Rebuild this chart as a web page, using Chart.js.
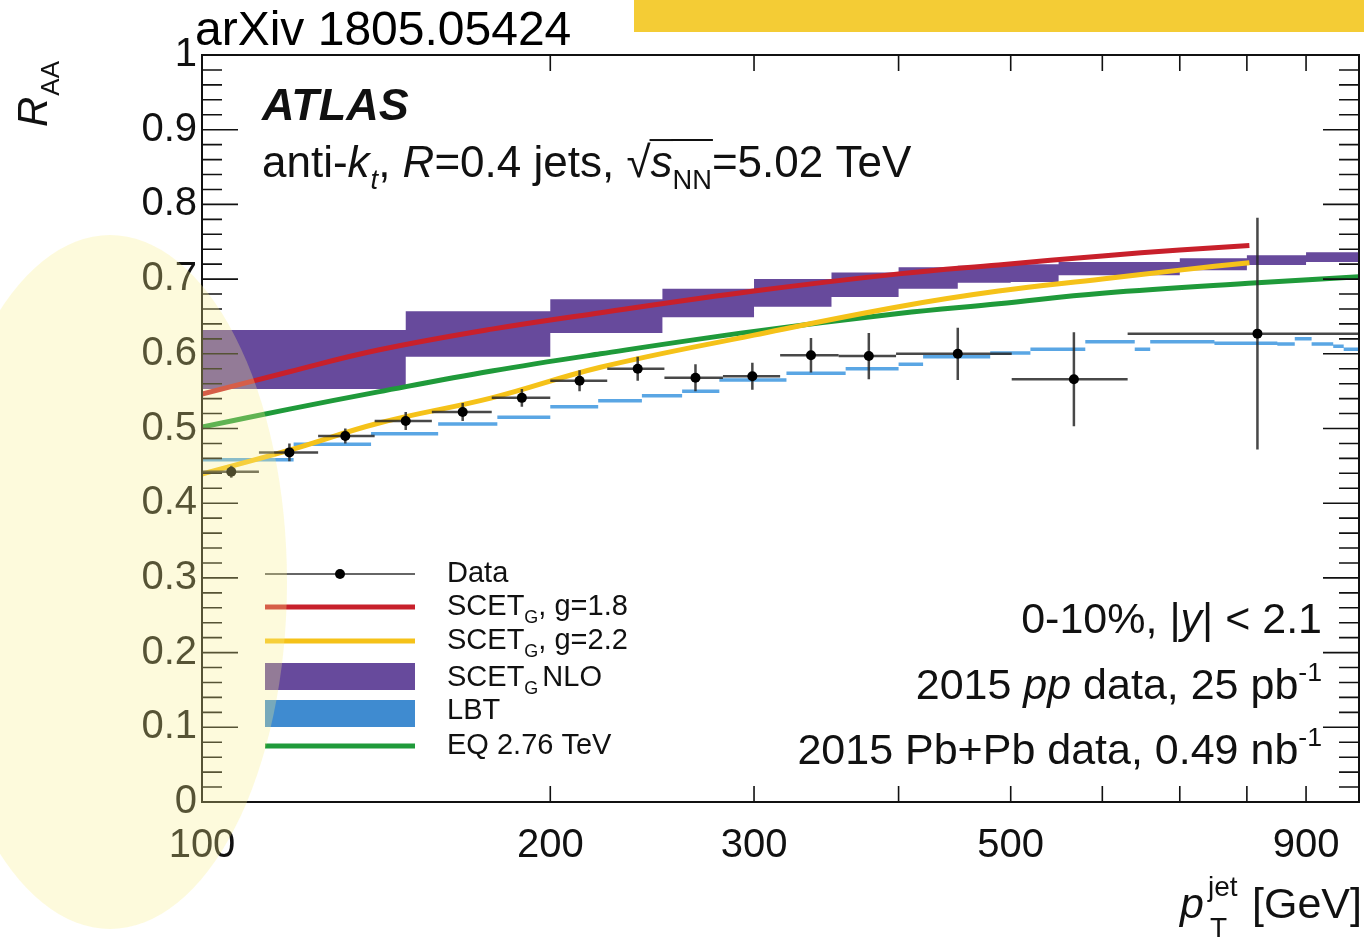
<!DOCTYPE html>
<html>
<head>
<meta charset="utf-8">
<script src="https://cdn.jsdelivr.net/npm/chart.js@4.4.1/dist/chart.umd.min.js"></script>
<style>
  html, body { margin: 0; padding: 0; background: #fff; }
  canvas { display: block; }
</style>
</head>
<body>
<canvas id="grafica" width="1364" height="940"></canvas>
<script>
// R_AA de jets, ATLAS 0-10%
const binEdges = [100, 112, 126, 141, 158, 178, 200, 224, 251, 282, 316, 355, 398, 501, 631, 1000];
const dataPt = [106, 119, 133, 150, 168, 189, 212, 238, 267, 299, 336, 377, 450, 567, 817];
const dataRaa = [0.442, 0.468, 0.490, 0.510, 0.522, 0.541, 0.564, 0.580, 0.568, 0.570, 0.598, 0.597, 0.600, 0.566, 0.627];
const dataErr = [0.008, 0.012, 0.010, 0.012, 0.012, 0.012, 0.014, 0.016, 0.018, 0.018, 0.023, 0.031, 0.035, 0.063, 0.155];

const curvePt = [100, 119, 142, 178, 221, 300, 400, 488, 600, 700, 804];
const scetG18 = [0.546, 0.576, 0.605, 0.633, 0.655, 0.684, 0.707, 0.719, 0.731, 0.739, 0.745];
const scetG22 = [0.439, 0.471, 0.507, 0.541, 0.582, 0.625, 0.663, 0.684, 0.700, 0.712, 0.722];

const eqPt = [100, 119, 142, 178, 221, 300, 400, 488, 600, 817, 1000];
const eq276 = [0.502, 0.526, 0.549, 0.577, 0.600, 0.630, 0.654, 0.667, 0.681, 0.695, 0.703];

const nloEdges = [100, 150, 200, 250, 300, 350, 400, 450, 500, 550, 700, 800, 900, 1000];
const nloLow = [0.553, 0.596, 0.628, 0.649, 0.663, 0.676, 0.687, 0.695, 0.696, 0.705, 0.712, 0.719, 0.723];
const nloHigh = [0.632, 0.657, 0.673, 0.687, 0.700, 0.709, 0.716, 0.718, 0.720, 0.723, 0.728, 0.732, 0.736];

const lbtEdges = [100, 120, 140, 160, 180, 200, 220, 240, 260, 280, 320, 360, 400, 420, 480, 520, 580, 640, 660, 750, 850, 880, 910, 950, 970, 1000];
const lbtRaa = [0.458, 0.479, 0.493, 0.506, 0.515, 0.529, 0.537, 0.544, 0.550, 0.565, 0.574, 0.580, 0.586, 0.596, 0.601, 0.606, 0.616, 0.606, 0.616, 0.614, 0.613, 0.620, 0.613, 0.610, 0.606];

const xLabels = [100, 200, 300, 500, 900];

const FUENTE = "'Liberation Sans', Arial, Helvetica, sans-serif";
const ROJO = "#c8202b", AMARILLO = "#f5c219", VERDE = "#1f9a3a", MORADO = "#674a9c";

function puntos(xs, ys) {
  return xs.map((x, i) => ({ x: x, y: ys[i] }));
}

function escalones(edges, vals) {
  const out = [];
  vals.forEach((v, i) => {
    out.push({ x: edges[i], y: v });
    out.push({ x: edges[i + 1], y: v });
  });
  return out;
}

function segmentos(edges, vals) {
  const out = [];
  vals.forEach((v, i) => {
    out.push({ x: edges[i], y: v });
    out.push({ x: edges[i + 1], y: v });
    out.push({ x: edges[i + 1], y: null });
  });
  return out;
}

function medirPartes(ctx, partes, size) {
  return partes.map(p => {
    const s = (p.sub || p.sup) ? size * 0.62 : size;
    const font = (p.i ? "italic " : "") + (p.b ? "bold " : "") + s + "px " + FUENTE;
    ctx.font = font;
    return Object.assign({}, p, {
      font: font,
      w: ctx.measureText(p.t).width,
      dy: p.sub ? size * 0.28 : (p.sup ? -size * 0.42 : 0)
    });
  });
}

function textoRico(ctx, partes, x, y, size, align) {
  const m = medirPartes(ctx, partes, size);
  const total = m.reduce((a, p) => a + p.w + (p.gap || 0), 0);
  let cx = align === "right" ? x - total : x;
  ctx.textAlign = "left";
  ctx.textBaseline = "alphabetic";
  m.forEach(p => {
    ctx.font = p.font;
    ctx.fillText(p.t, cx, y + p.dy);
    if (p.ol) {
      ctx.save();
      ctx.lineWidth = 2;
      ctx.strokeStyle = ctx.fillStyle;
      ctx.beginPath();
      ctx.moveTo(cx - 1, y - size * 0.84);
      ctx.lineTo(cx + p.w + 1, y - size * 0.84);
      ctx.stroke();
      ctx.restore();
    }
    cx += p.w + (p.gap || 0);
  });
}

const barrasError = {
  id: "barrasError",
  beforeDatasetDraw(chart, args) {
    if (args.index !== 0) return;
    const ctx = chart.ctx, x = chart.scales.x, y = chart.scales.y;
    ctx.save();
    ctx.strokeStyle = "rgba(40,40,40,0.85)";
    ctx.lineWidth = 2.5;
    dataPt.forEach((pt, i) => {
      const px = x.getPixelForValue(pt), py = y.getPixelForValue(dataRaa[i]);
      ctx.beginPath();
      ctx.moveTo(x.getPixelForValue(binEdges[i]), py);
      ctx.lineTo(x.getPixelForValue(binEdges[i + 1]), py);
      ctx.moveTo(px, y.getPixelForValue(dataRaa[i] - dataErr[i]));
      ctx.lineTo(px, y.getPixelForValue(dataRaa[i] + dataErr[i]));
      ctx.stroke();
    });
    ctx.restore();
  }
};

const decorado = {
  id: "decorado",
  afterDraw(chart) {
    const ctx = chart.ctx, a = chart.chartArea;
    const x = chart.scales.x, y = chart.scales.y;
    ctx.save();

    // marco y marcas hacia dentro
    ctx.strokeStyle = "#111";
    ctx.lineWidth = 2;
    ctx.strokeRect(a.left, a.top, a.right - a.left, a.bottom - a.top);
    ctx.lineWidth = 1.6;
    ctx.beginPath();
    for (let k = 0; k <= 50; k++) {
      const py = y.getPixelForValue(k * 0.02);
      const len = k % 5 === 0 ? 36 : 20;
      ctx.moveTo(a.left, py); ctx.lineTo(a.left + len, py);
      ctx.moveTo(a.right, py); ctx.lineTo(a.right - len, py);
    }
    for (let v = 200; v <= 1000; v += 100) {
      const px = x.getPixelForValue(v);
      ctx.moveTo(px, a.bottom); ctx.lineTo(px, a.bottom - 16);
      ctx.moveTo(px, a.top); ctx.lineTo(px, a.top + 16);
    }
    ctx.stroke();

    ctx.fillStyle = "#111";
    // textos del panel
    textoRico(ctx, [{ t: "ATLAS", b: true, i: true }], 262, 120, 45, "left");
    textoRico(ctx, [
      { t: "anti-" }, { t: "k", i: true, gap: 1 }, { t: "t", i: true, sub: true }, { t: ", " },
      { t: "R", i: true }, { t: "=0.4 jets, " }, { t: "\u221A" },
      { t: "s", i: true, ol: true }, { t: "NN", sub: true, ol: true }, { t: "=5.02 TeV" }
    ], 262, 177, 44, "left");

    textoRico(ctx, [{ t: "0-10%, |" }, { t: "y", i: true }, { t: "| < 2.1" }], 1322, 633, 43, "right");
    textoRico(ctx, [{ t: "2015 " }, { t: "pp", i: true }, { t: " data, 25 pb" }, { t: "-1", sup: true }], 1322, 699, 43, "right");
    textoRico(ctx, [{ t: "2015 Pb+Pb data, 0.49 nb" }, { t: "-1", sup: true }], 1322, 764, 43, "right");

    // leyenda
    const lx0 = 265, lx1 = 415, tx = 447;
    ctx.lineWidth = 2;
    ctx.strokeStyle = "#666";
    ctx.beginPath(); ctx.moveTo(lx0, 574); ctx.lineTo(lx1, 574); ctx.stroke();
    ctx.fillStyle = "#000";
    ctx.beginPath(); ctx.arc(340, 574, 5, 0, Math.PI * 2); ctx.fill();
    ctx.lineWidth = 5;
    [[ROJO, 607], [AMARILLO, 641], [VERDE, 746]].forEach(([c, ly]) => {
      ctx.strokeStyle = c;
      ctx.beginPath(); ctx.moveTo(lx0, ly); ctx.lineTo(lx1, ly); ctx.stroke();
    });
    ctx.fillStyle = MORADO; ctx.fillRect(lx0, 663, lx1 - lx0, 27);
    ctx.fillStyle = "#3f8bd0"; ctx.fillRect(lx0, 700, lx1 - lx0, 27);

    ctx.fillStyle = "#111";
    textoRico(ctx, [{ t: "Data" }], tx, 582, 29, "left");
    textoRico(ctx, [{ t: "SCET" }, { t: "G", sub: true }, { t: ", g=1.8" }], tx, 615, 29, "left");
    textoRico(ctx, [{ t: "SCET" }, { t: "G", sub: true }, { t: ", g=2.2" }], tx, 649, 29, "left");
    textoRico(ctx, [{ t: "SCET" }, { t: "G", sub: true, gap: 4 }, { t: "NLO" }], tx, 686, 29, "left");
    textoRico(ctx, [{ t: "LBT" }], tx, 719, 29, "left");
    textoRico(ctx, [{ t: "EQ 2.76 TeV" }], tx, 754, 29, "left");

    // titulos de ejes
    ctx.save();
    ctx.translate(47, 127);
    ctx.rotate(-Math.PI / 2);
    textoRico(ctx, [{ t: "R", i: true, gap: 1 }, { t: "AA", sub: true }], 0, 0, 42, "left");
    ctx.restore();

    ctx.textAlign = "left";
    ctx.font = "italic 43px " + FUENTE;
    ctx.fillText("p", 1180, 918);
    ctx.font = "28px " + FUENTE;
    ctx.fillText("jet", 1208, 896);
    ctx.fillText("T", 1210, 937);
    ctx.font = "43px " + FUENTE;
    ctx.textAlign = "right";
    ctx.fillText("[GeV]", 1362, 918);

    // encabezado
    ctx.textAlign = "left";
    ctx.font = "48px " + FUENTE;
    ctx.fillStyle = "#000";
    ctx.fillText("arXiv 1805.05424", 195, 45);
    ctx.fillStyle = "#f4cc35";
    ctx.fillRect(634, 0, 730, 32);

    // elipse resaltada
    ctx.fillStyle = "rgba(250,238,140,0.3)";
    ctx.beginPath();
    ctx.ellipse(110, 582, 177, 347, 0, 0, Math.PI * 2);
    ctx.fill();

    ctx.restore();
  }
};

const ctx = document.getElementById("grafica").getContext("2d");
new Chart(ctx, {
  type: "line",
  data: {
    datasets: [
      {
        label: "Data", data: puntos(dataPt, dataRaa), showLine: false,
        pointRadius: 5, pointBackgroundColor: "#000", pointBorderWidth: 0, order: 0
      },
      {
        label: "SCET_G, g=1.8", data: puntos(curvePt, scetG18), borderColor: ROJO, borderWidth: 5,
        pointRadius: 0, tension: 0.4, fill: false, order: 1
      },
      {
        label: "SCET_G, g=2.2", data: puntos(curvePt, scetG22), borderColor: AMARILLO, borderWidth: 5,
        pointRadius: 0, tension: 0.4, fill: false, order: 2
      },
      {
        label: "EQ 2.76 TeV", data: puntos(eqPt, eq276), borderColor: VERDE, borderWidth: 5,
        pointRadius: 0, tension: 0.4, fill: false, order: 3
      },
      {
        label: "LBT", data: segmentos(lbtEdges, lbtRaa), borderColor: "#5aa6e4", borderWidth: 3.5,
        pointRadius: 0, spanGaps: false, fill: false, order: 4
      },
      {
        label: "SCET_G NLO alto", data: escalones(nloEdges, nloHigh), borderWidth: 0,
        borderColor: MORADO, pointRadius: 0, fill: false, order: 5
      },
      {
        label: "SCET_G NLO", data: escalones(nloEdges, nloLow), borderWidth: 0,
        borderColor: MORADO, backgroundColor: MORADO, pointRadius: 0, fill: "-1", order: 6
      }
    ]
  },
  options: {
    responsive: false,
    animation: false,
    layout: { padding: { top: 55, right: 4, left: 0, bottom: 0 } },
    plugins: { legend: { display: false }, tooltip: { enabled: false } },
    scales: {
      x: {
        type: "logarithmic", min: 100, max: 1000,
        grid: { display: false, drawTicks: false }, border: { display: false },
        ticks: {
          autoSkip: false, maxRotation: 0, padding: 20, color: "#111",
          font: { family: FUENTE, size: 40 },
          callback: v => xLabels.includes(v) ? String(v) : ""
        },
        afterFit: s => { s.height = 138; s.paddingLeft = 0; s.paddingRight = 0; }
      },
      y: {
        min: 0, max: 1,
        grid: { display: false, drawTicks: false }, border: { display: false },
        ticks: {
          stepSize: 0.1, padding: 5, color: "#111",
          font: { family: FUENTE, size: 40 },
          callback: v => Math.abs(v) < 1e-9 ? "0" : (Math.abs(v - 1) < 1e-9 ? "1" : v.toFixed(1))
        },
        afterFit: s => { s.width = 202; s.paddingTop = 0; s.paddingBottom = 0; }
      }
    }
  },
  plugins: [barrasError, decorado]
});
</script>
</body>
</html>
